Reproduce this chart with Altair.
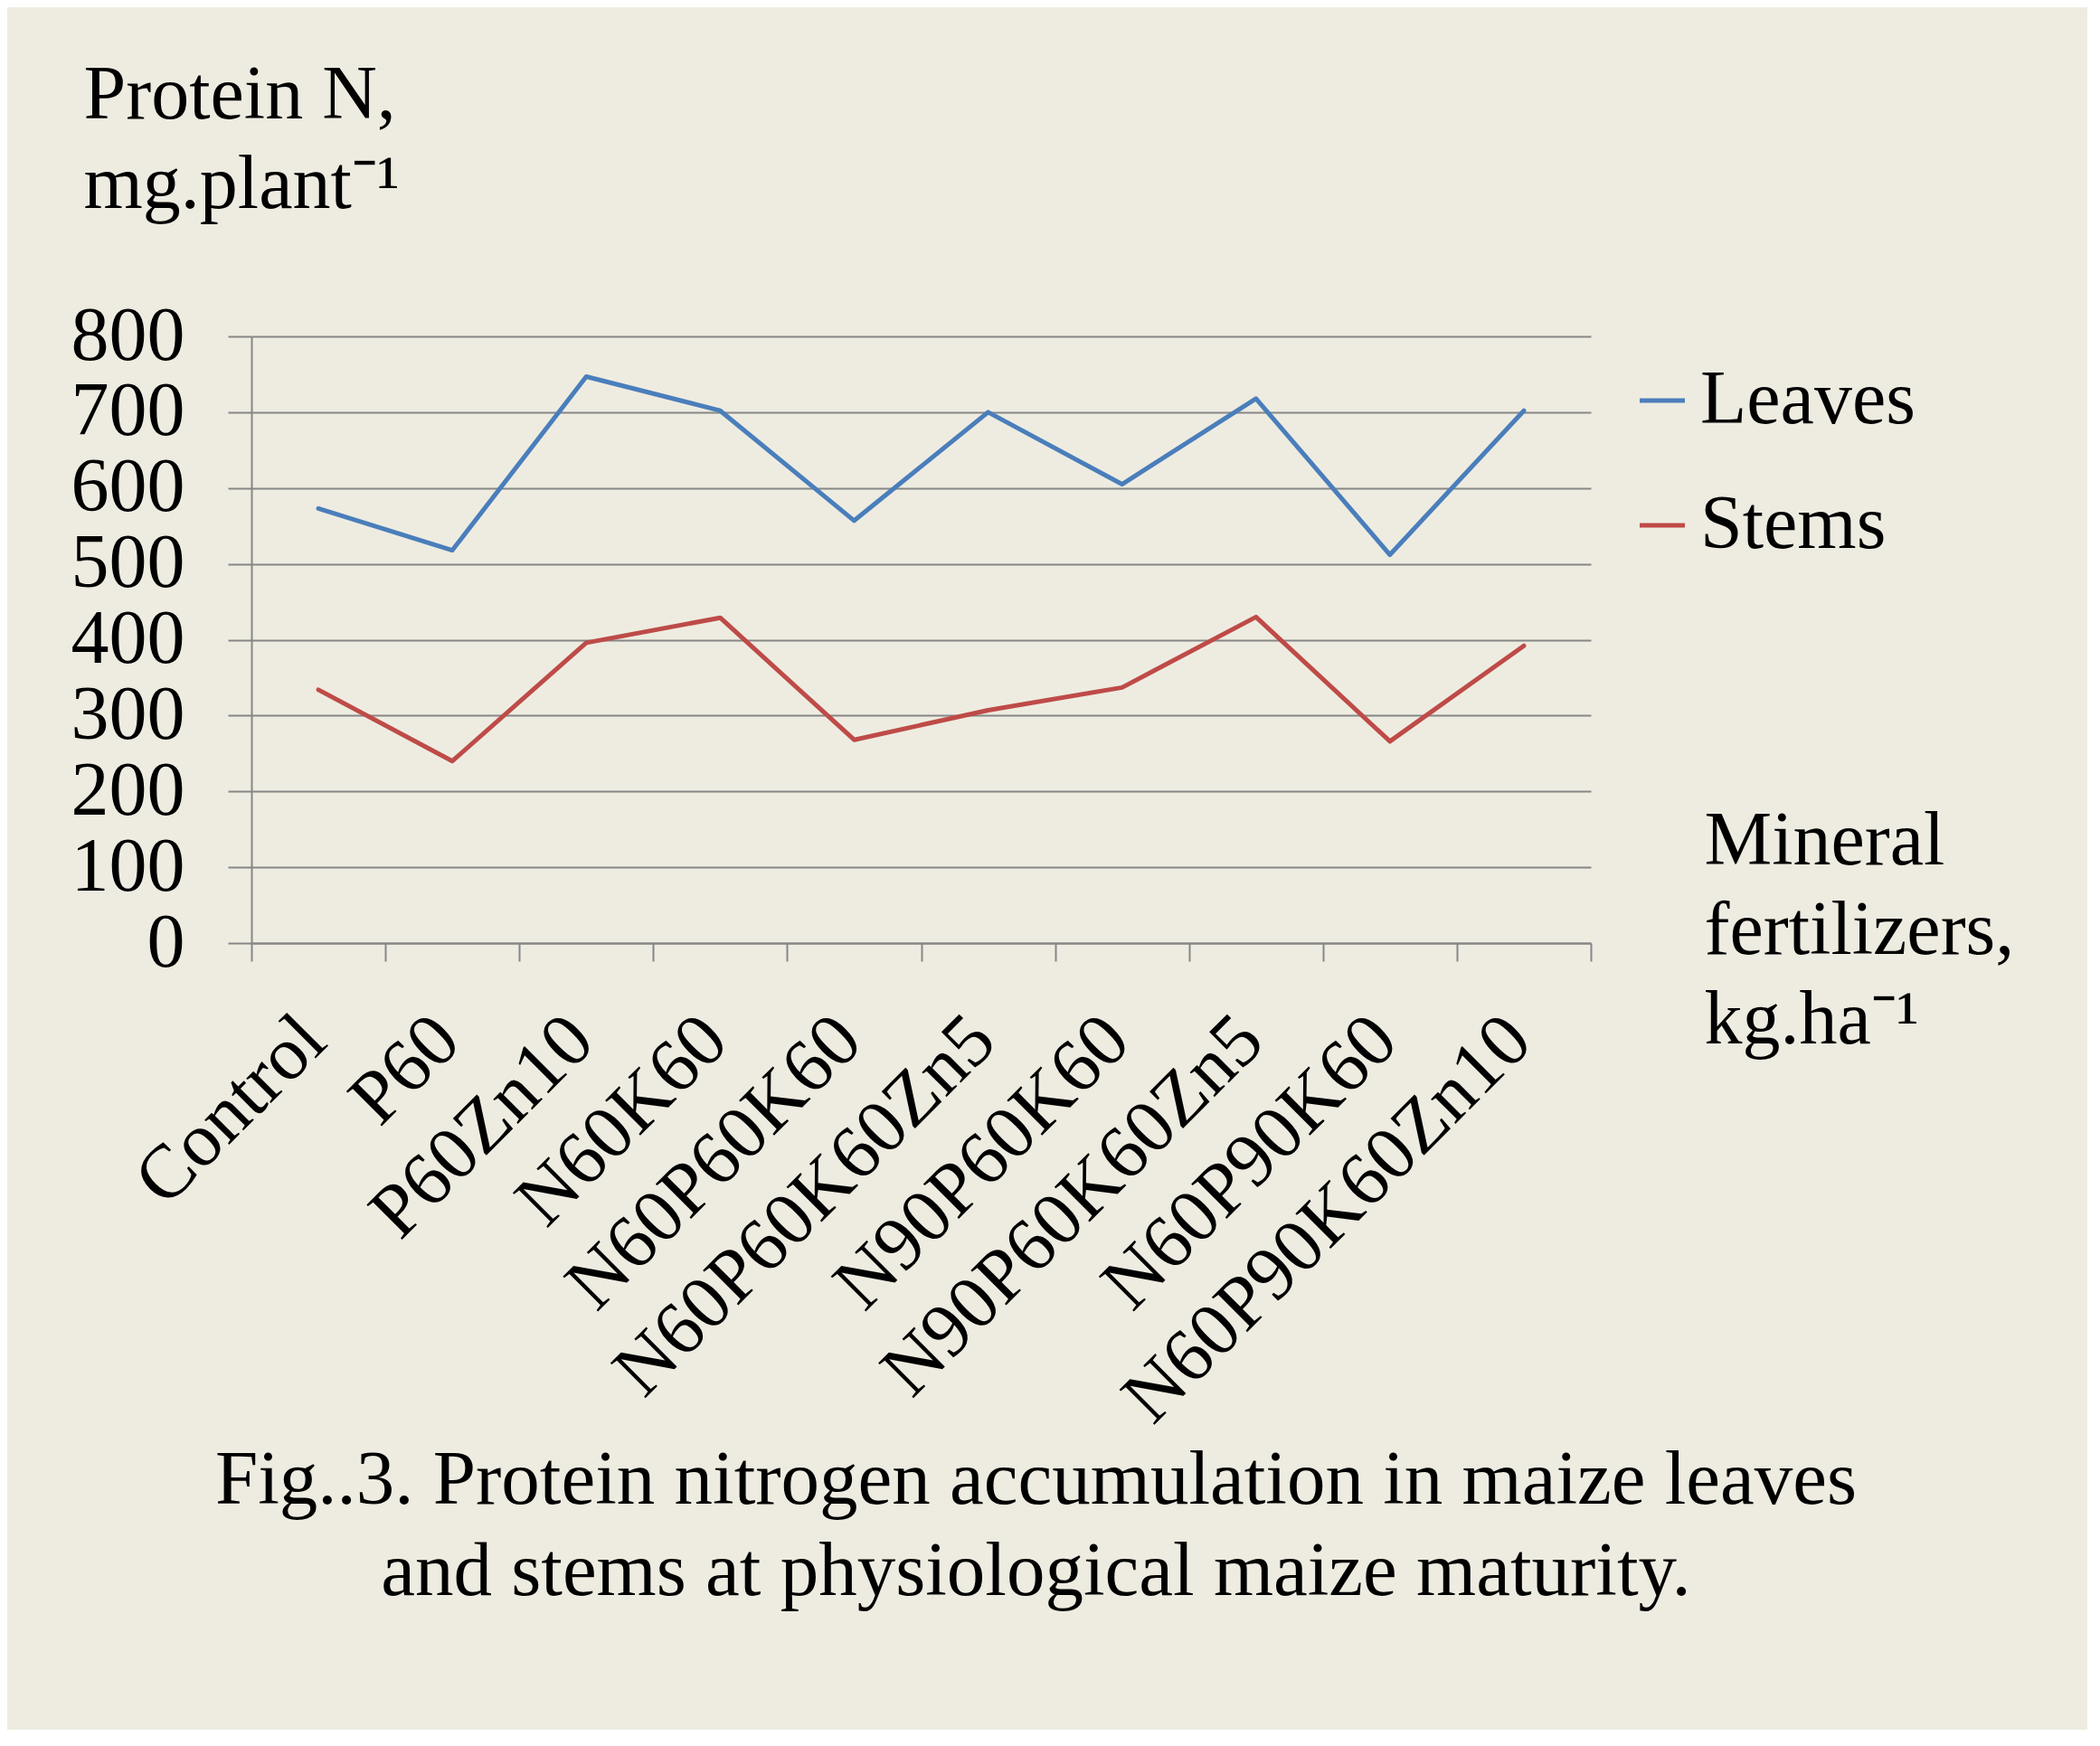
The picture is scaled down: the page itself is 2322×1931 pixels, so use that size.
import altair as alt
import pandas as pd

categories = ["Control", "P60", "P60Zn10", "N60K60", "N60P60K60", "N60P60K60Zn5",
              "N90P60K60", "N90P60K60Zn5", "N60P90K60", "N60P90K60Zn10"]
leaves = [573, 518, 747, 702, 557, 700, 605, 718, 512, 702]
stems = [334, 240, 396, 429, 268, 307, 337, 430, 266, 392]
series_names = ["Leaves", "Stems"]
series_colors = ["#4A7EBB", "#BE4B48"]
y_ticks = [0, 100, 200, 300, 400, 500, 600, 700, 800]

df = pd.DataFrame({
    "Fertilizer": categories * 2,
    "Series": [series_names[0]] * len(categories) + [series_names[1]] * len(categories),
    "Value": leaves + stems,
})

FONT = "Liberation Serif"
FS = 84
GRAY = "#868686"
W, H = 1481, 671

chart = alt.Chart(df).mark_line(strokeWidth=5, strokeCap="round", strokeJoin="round").encode(
    x=alt.X(
        "Fertilizer:N",
        sort=categories,
        bandPosition=0.5,
        scale=alt.Scale(type="band", paddingInner=0, paddingOuter=0),
        axis=alt.Axis(
            title=["Mineral", "fertilizers,", "kg.ha\u207b\u00b9"],
            titleFont=FONT, titleFontSize=FS, titleFontWeight="normal", titleColor="black",
            titleAngle=0, titleAlign="left", titleBaseline="alphabetic",
            titleLineHeight=99, titleX=1606, titleY=-88,
            labelAngle=-45, labelAlign="right", labelBaseline="middle",
            labelFont=FONT, labelFontSize=FS, labelColor="black",
            labelPadding=74, labelOffset=-6, labelLimit=0,
            tickBand="extent", tickSize=20, tickColor=GRAY, tickWidth=2,
            domainColor=GRAY, domainWidth=2, grid=False, labelOverlap=False,
        ),
    ),
    y=alt.Y(
        "Value:Q",
        scale=alt.Scale(domain=[0, 800], nice=False),
        axis=alt.Axis(
            values=y_ticks,
            title=["Protein N,", "mg.plant\u207b\u00b9"],
            titleFont=FONT, titleFontSize=FS, titleFontWeight="normal", titleColor="black",
            titleAngle=0, titleAlign="left", titleBaseline="alphabetic",
            titleLineHeight=99, titleX=-186, titleY=-242,
            labelFont=FONT, labelFontSize=FS, labelColor="black", labelPadding=48,
            labelOverlap=False, labelFlush=False,
            tickSize=26, tickColor=GRAY, tickWidth=2,
            domainColor=GRAY, domainWidth=2,
            grid=True, gridColor=GRAY, gridWidth=2,
        ),
    ),
    color=alt.Color(
        "Series:N",
        scale=alt.Scale(domain=series_names, range=series_colors),
        legend=alt.Legend(
            title=None, orient="none", legendX=1518, legendY=29,
            symbolType="stroke", symbolSize=2500, symbolStrokeWidth=5,
            labelFont=FONT, labelFontSize=FS, labelColor="black", labelLimit=0,
            rowPadding=54, labelOffset=0, padding=0,
        ),
    ),
).properties(
    width=W,
    height=H,
    padding={"left": 270, "top": 364, "right": 549, "bottom": 870},
    autosize=alt.AutoSizeParams(type="none"),
    title=alt.Title(
        ["Fig..3. Protein nitrogen accumulation in maize leaves",
         "and stems at physiological maize maturity."],
        orient="bottom", anchor="middle", frame="group",
        font=FONT, fontSize=85, fontWeight="normal", color="black",
        lineHeight=101, dx=127, offset=7,
    ),
).configure(
    background="#EEECE1",
).configure_view(
    stroke=None,
)

chart.save("out.html", embed_options={"renderer": "svg", "actions": False})
